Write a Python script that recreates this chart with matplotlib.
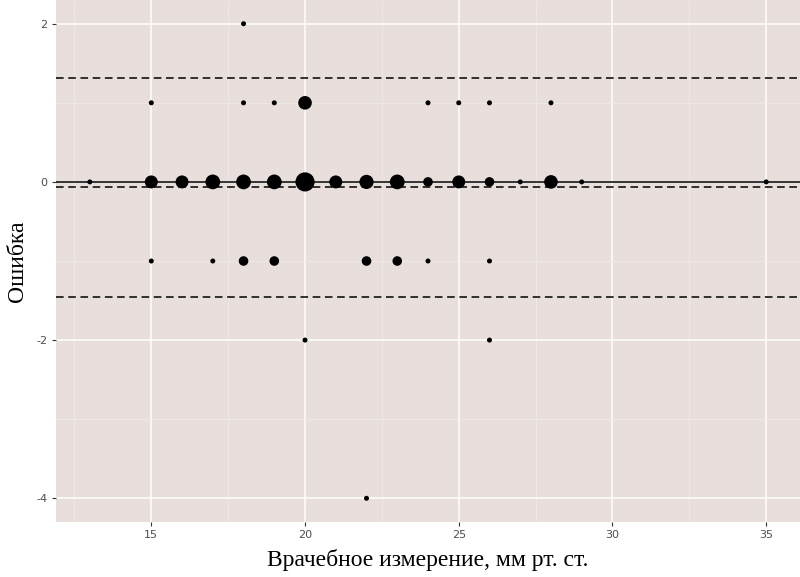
import numpy as np
import matplotlib.pyplot as plt
from matplotlib.ticker import MultipleLocator

plt.rcParams['axes.unicode_minus'] = False

# data: doctor's measurement (x), error (y), number of coinciding observations (n)
x_vals = [13, 15, 16, 17, 18, 19, 20, 21, 22, 23, 24, 25, 26, 27, 28, 29, 35,
          15, 18, 19, 20, 24, 25, 26, 28,
          15, 17, 18, 19, 22, 23, 24, 26,
          18, 20, 26, 22]
y_vals = [0] * 17 + [1] * 8 + [-1] * 8 + [2, -2, -2, -4]
counts = [1, 7, 7, 10, 10, 10, 20, 7, 9, 10, 3, 7, 3, 1, 8, 1, 1,
          1, 1, 1, 8, 1, 1, 1, 1,
          1, 1, 3, 3, 3, 3, 1, 1,
          1, 1, 1, 1]
mean_diff = -0.065
loa_upper = 1.32
loa_lower = -1.45

x = np.array(x_vals, dtype=float)
y = np.array(y_vals, dtype=float)
n = np.array(counts, dtype=float)

# area-style size scale (like ggplot scale_size)
d_min, d_max = 3.6, 13.8  # diameter in points
d = d_min + (d_max - d_min) * np.sqrt((n - n.min()) / (n.max() - n.min()))
sizes = d ** 2

bg = '#e8dfdc'
fig = plt.figure(figsize=(8, 5.77), dpi=100)
ax = fig.add_axes([0.07, 0.0953, 0.93, 0.9047])
ax.set_facecolor(bg)
for sp in ax.spines.values():
    sp.set_visible(False)

ax.set_xlim(11.9, 36.1)
ax.set_ylim(-4.3, 2.3)
ax.xaxis.set_major_locator(MultipleLocator(5))
ax.xaxis.set_minor_locator(MultipleLocator(2.5))
ax.yaxis.set_major_locator(MultipleLocator(2))
ax.yaxis.set_minor_locator(MultipleLocator(1))
ax.grid(which='major', color='white', linewidth=1.1)
ax.grid(which='minor', color='#f0e9e7', linewidth=0.6)
ax.set_axisbelow(True)
ax.tick_params(which='minor', length=0)
ax.tick_params(which='major', length=3, width=0.8, color='#333333',
               labelcolor='#4d4d4d', labelsize=8, pad=3)

ax.axhline(0, color='black', linewidth=1.1, zorder=2)
for v in (loa_upper, mean_diff, loa_lower):
    ax.axhline(v, color='black', linewidth=1.1, linestyle=(0, (5, 3)), zorder=2)

ax.scatter(x, y, s=sizes, color='black', edgecolors='none', zorder=3)

ax.set_xlabel('Врачебное измерение, мм рт. ст.', family='Liberation Serif',
              fontsize=17, labelpad=6)
ax.set_ylabel('Ошибка', family='Liberation Serif', fontsize=17)
ax.yaxis.set_label_coords(-0.037, 0.5)

fig.savefig('out.png', dpi=100, facecolor='white')
